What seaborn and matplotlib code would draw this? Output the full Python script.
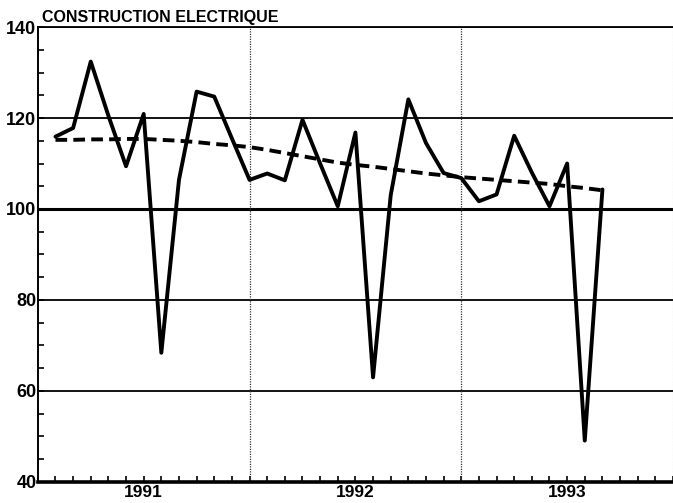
import numpy as np
import pandas as pd
import matplotlib
matplotlib.use("Agg")
import matplotlib.pyplot as plt
import seaborn as sns
from matplotlib.ticker import FixedLocator, MultipleLocator

# ---- data ----
title = "CONSTRUCTION ELECTRIQUE"
# months counted from January 1991 (1 = Feb 1991 ... 32 = Sep 1993)
month_index = list(range(1, 33))
actual = [115.9, 117.8, 132.4, 120.5, 109.4, 120.9, 68.4, 106.4,
          125.8, 124.7, 115.5, 106.4, 107.8, 106.3, 119.6, 110.0,
          100.6, 116.8, 63.0, 103.0, 124.1, 114.5, 107.9, 106.8,
          101.7, 103.2, 116.1, 108.0, 100.6, 110.0, 49.1, 104.3]
trend = [115.2, 115.2, 115.3, 115.3, 115.4, 115.4, 115.2, 115.0,
         114.7, 114.3, 114.0, 113.6, 113.0, 112.3, 111.6, 110.9,
         110.2, 109.7, 109.3, 108.8, 108.3, 107.8, 107.4, 107.0,
         106.7, 106.4, 106.1, 105.8, 105.5, 105.0, 104.6, 104.1]
year_labels = ["1991", "1992", "1993"]
year_label_pos = [6, 18, 30]
year_bounds = [12, 24]
y_ticks = [40, 60, 80, 100, 120, 140]

# ---- style ----
sns.set_style("white")
plt.rcParams['font.family'] = ['Liberation Sans', 'DejaVu Sans']
plt.rcParams['font.weight'] = 'bold'

fig = plt.figure(figsize=(6.73, 5.03), dpi=100)
ax = fig.add_axes([0.0562, 0.0418, 0.9438, 0.9045])

df = pd.DataFrame({"month": month_index, "actual": actual, "trend": trend})

# grid lines
for yv in y_ticks:
    ax.axhline(yv, color="black", lw=2.2 if yv == 100 else 1.3, zorder=1)
for xv in year_bounds:
    ax.axvline(xv, color="#333333", lw=0.9, linestyle=(0, (1, 1)), zorder=1)

sns.lineplot(data=df, x="month", y="actual", ax=ax, color="black",
             lw=2.8, zorder=3)
sns.lineplot(data=df, x="month", y="trend", ax=ax, color="black",
             lw=2.8, linestyle=(0, (3.0, 1.6)), zorder=3)

ax.set_xlim(0, 36)
ax.set_ylim(40, 140)
ax.set_xlabel("")
ax.set_ylabel("")

ax.xaxis.set_major_locator(FixedLocator(year_label_pos))
ax.set_xticklabels(year_labels)
ax.xaxis.set_minor_locator(MultipleLocator(1))
ax.yaxis.set_major_locator(FixedLocator(y_ticks))
ax.set_yticklabels([str(v) for v in y_ticks])
ax.yaxis.set_minor_locator(MultipleLocator(5))

ax.tick_params(axis="x", which="both", direction="in", length=4, width=1.2,
               bottom=True, top=False, pad=2, labelsize=12.5, colors="black")
ax.tick_params(axis="y", which="both", direction="in", length=4, width=1.2,
               left=True, right=False, pad=1, labelsize=13, colors="black")
for lab in ax.get_xticklabels() + ax.get_yticklabels():
    lab.set_fontweight("bold")

ax.spines["bottom"].set_linewidth(2.6)
ax.spines["left"].set_linewidth(1.4)
ax.spines["top"].set_linewidth(1.3)
ax.spines["right"].set_color("#bbbbbb")
ax.spines["right"].set_linestyle((0, (1, 2)))
ax.spines["right"].set_linewidth(0.8)
for name, s in ax.spines.items():
    if name != "right":
        s.set_color("black")

ax.text(0.006, 1.004, title, transform=ax.transAxes, ha="left", va="bottom",
        fontsize=11.5, fontweight="heavy", color="black")

fig.savefig("out.png", dpi=100)
